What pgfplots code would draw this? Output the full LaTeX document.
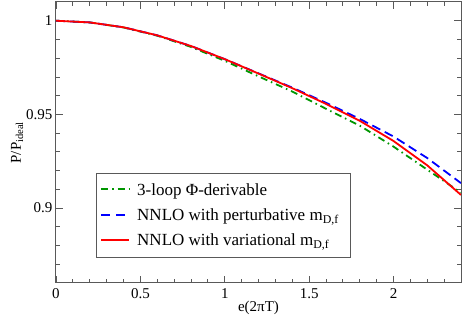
\documentclass[border=0pt]{standalone}
\usepackage{fontspec}
\setmainfont{Liberation Serif}
\usepackage{pgfplots}
\pgfplotsset{compat=1.18}
\definecolor{ggreen}{RGB}{0,150,0}
\definecolor{bblue}{RGB}{0,0,255}
\begin{document}
\begin{tikzpicture}
\useasboundingbox (-56pt,-37pt) rectangle (407pt,283pt);
\begin{axis}[
  scale only axis,
  width=405pt, height=281pt,
  xmin=0, xmax=2.4, ymin=0.86, ymax=1.01,
  xtick={0,0.5,1,1.5,2},
  xticklabels={0,0.5,1,1.5,2},
  minor xtick={0.1,0.2,0.3,0.4,0.6,0.7,0.8,0.9,1.1,1.2,1.3,1.4,1.6,1.7,1.8,1.9,2.1,2.2,2.3},
  ytick={0.9,0.95,1},
  yticklabels={0.9,0.95,1},
  minor ytick={0.87,0.88,0.89,0.91,0.92,0.93,0.94,0.96,0.97,0.98,0.99,1.0},
  tick align=inside,
  major tick length=7pt,
  minor tick length=4pt,
  axis line style={black!65, line width=1pt},
  every tick/.style={black!65, line width=0.8pt},
  tick label style={font=\fontsize{15}{18}\selectfont},
  xticklabel style={yshift=-2pt},
  label style={font=\fontsize{15}{18}\selectfont},
  xlabel={e(2πT)},
  ylabel={P/P\textsubscript{ideal}},
  xlabel style={yshift=4pt},
  ylabel style={yshift=-4pt},
  legend style={at={(rel axis cs:0.0988,0.391)}, anchor=north west,
    draw=black!65, fill=white,
    font=\fontsize{17}{20}\selectfont, row sep=8pt,
    inner xsep=4pt, inner ysep=8pt,
    nodes={inner xsep=7pt}},
  legend cell align=left,
  legend image code/.code={\draw[#1] (3pt,0.5pt) -- (31pt,0.5pt);},
]
\addlegendimage{draw=ggreen, line width=2pt, dash pattern=on 7pt off 4pt on 1.5pt off 4pt}
\addlegendentry{3-loop Φ-derivable}
\addlegendimage{draw=bblue, line width=2pt, dash pattern=on 9pt off 6pt}
\addlegendentry{NNLO with perturbative m\textsubscript{D,f}}
\addlegendimage{draw=red, line width=2pt}
\addlegendentry{NNLO with variational m\textsubscript{D,f}}
\addplot[forget plot, draw=ggreen, line width=1.8pt, dash pattern=on 7pt off 4pt on 1.5pt off 4pt] coordinates {
(0,1.0) (0.2,0.9991) (0.4,0.9964) (0.6,0.9920) (0.8,0.9860) (1.0,0.9786) (1.2,0.9703)
(1.4,0.9622) (1.6,0.9530) (1.8,0.9440) (2.0,0.9328) (2.2,0.9205) (2.4,0.9082)};
\addplot[forget plot, draw=bblue, line width=1.8pt, dash pattern=on 9pt off 5pt] coordinates {
(0,1.0) (0.2,0.9991) (0.4,0.9965) (0.6,0.9922) (0.8,0.9865) (1.0,0.9795) (1.2,0.9719)
(1.4,0.9643) (1.6,0.9562) (1.8,0.9476) (2.0,0.9382) (2.2,0.9267) (2.4,0.9133)};
\addplot[forget plot, draw=red, solid, line width=1.8pt] coordinates {
(0,1.0) (0.2,0.9991) (0.4,0.9965) (0.6,0.9922) (0.8,0.9865) (1.0,0.9795) (1.2,0.9718)
(1.4,0.9640) (1.6,0.9556) (1.8,0.9466) (2.0,0.9358) (2.2,0.9228) (2.4,0.9070)};
\end{axis}
\end{tikzpicture}
\end{document}
